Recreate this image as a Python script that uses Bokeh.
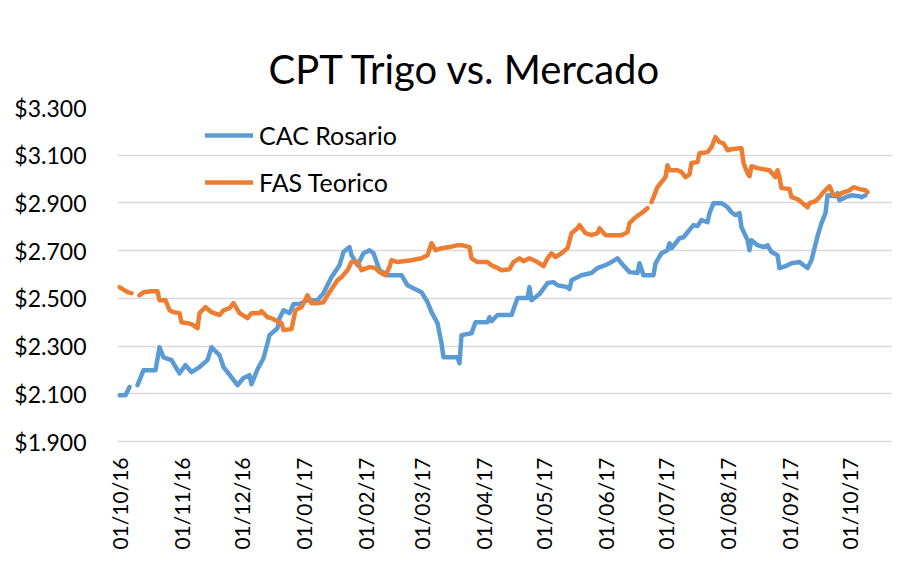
import numpy as np
import pandas as pd
from datetime import datetime, timedelta
from bokeh.plotting import figure
from bokeh.models import (ColumnDataSource, Range1d, FixedTicker, MonthsTicker,
                          DatetimeTickFormatter, Title)
from bokeh.embed import file_html
from bokeh.resources import INLINE

nan = np.nan

titulo = "CPT Trigo vs. Mercado"
serie_cac = "CAC Rosario"
serie_fas = "FAS Teorico"

cac_fechas = [
    "2016-10-01", "2016-10-04", "2016-10-06", "2016-10-08", "2016-10-10", "2016-10-13", "2016-10-19", "2016-10-21", "2016-10-23", "2016-10-27",
    "2016-10-31", "2016-11-03", "2016-11-06", "2016-11-10", "2016-11-14", "2016-11-16", "2016-11-20", "2016-11-22", "2016-11-24", "2016-11-29",
    "2016-12-02", "2016-12-05", "2016-12-06", "2016-12-09", "2016-12-12", "2016-12-14", "2016-12-15", "2016-12-19", "2016-12-20", "2016-12-22",
    "2016-12-25", "2016-12-27", "2016-12-30", "2017-01-03", "2017-01-08", "2017-01-11", "2017-01-15", "2017-01-19", "2017-01-21", "2017-01-24",
    "2017-01-25", "2017-01-28", "2017-01-31", "2017-02-03", "2017-02-05", "2017-02-08", "2017-02-12", "2017-02-19", "2017-02-22", "2017-03-01",
    "2017-03-04", "2017-03-06", "2017-03-09", "2017-03-11", "2017-03-12", "2017-03-19", "2017-03-20", "2017-03-21", "2017-03-26", "2017-03-28",
    "2017-04-03", "2017-04-04", "2017-04-05", "2017-04-08", "2017-04-15", "2017-04-18", "2017-04-23", "2017-04-24", "2017-04-25", "2017-04-29",
    "2017-05-03", "2017-05-06", "2017-05-08", "2017-05-13", "2017-05-14", "2017-05-15", "2017-05-20", "2017-05-25", "2017-05-28", "2017-06-01",
    "2017-06-04", "2017-06-07", "2017-06-09", "2017-06-13", "2017-06-17", "2017-06-18", "2017-06-20", "2017-06-25", "2017-06-26", "2017-06-29",
    "2017-07-02", "2017-07-03", "2017-07-04", "2017-07-08", "2017-07-10", "2017-07-12", "2017-07-15", "2017-07-17", "2017-07-19", "2017-07-22",
    "2017-07-23", "2017-07-25", "2017-07-29", "2017-08-01", "2017-08-03", "2017-08-05", "2017-08-07", "2017-08-08", "2017-08-11", "2017-08-12",
    "2017-08-13", "2017-08-16", "2017-08-19", "2017-08-21", "2017-08-23", "2017-08-26", "2017-08-27", "2017-08-30", "2017-09-02", "2017-09-06",
    "2017-09-10", "2017-09-12", "2017-09-15", "2017-09-17", "2017-09-19", "2017-09-20", "2017-09-24", "2017-09-25", "2017-09-26", "2017-09-29",
    "2017-10-02", "2017-10-06", "2017-10-07", "2017-10-09",
]
cac_valores = [
    2094, 2094, 2128, nan, 2136, 2199, 2199, 2295, 2253, 2241,
    2186, 2220, 2191, 2212, 2241, 2295, 2262, 2212, 2191, 2136,
    2166, 2178, 2140, 2203, 2249, 2312, 2346, 2375, 2417, 2450,
    2438, 2476, 2476, 2492, 2492, 2522, 2589, 2639, 2694, 2715,
    2681, 2639, 2689, 2702, 2689, 2618, 2597, 2597, 2555, 2526,
    2484, 2442, 2396, 2312, 2253, 2253, 2228, 2346, 2354, 2400,
    2400, 2421, 2404, 2430, 2430, 2501, 2501, 2547, 2492, 2518,
    2564, 2568, 2555, 2547, 2539, 2576, 2597, 2606, 2627, 2639,
    2652, 2668, 2647, 2610, 2606, 2647, 2597, 2597, 2647, 2689,
    2702, 2731, 2710, 2752, 2756, 2777, 2807, 2803, 2828, 2819,
    2857, 2899, 2899, 2882, 2861, 2849, 2857, 2798, 2744, 2702,
    2744, 2723, 2715, 2723, 2694, 2681, 2627, 2635, 2647, 2652,
    2627, 2660, 2761, 2815, 2857, 2932, 2928, 2941, 2911, 2924,
    2932, 2928, 2924, 2932,
]

fas_fechas = [
    "2016-10-01", "2016-10-05", "2016-10-07", "2016-10-08", "2016-10-11", "2016-10-13", "2016-10-17", "2016-10-20", "2016-10-21", "2016-10-24",
    "2016-10-26", "2016-10-28", "2016-10-31", "2016-11-01", "2016-11-04", "2016-11-06", "2016-11-09", "2016-11-10", "2016-11-13", "2016-11-16",
    "2016-11-20", "2016-11-22", "2016-11-25", "2016-11-27", "2016-11-30", "2016-12-04", "2016-12-06", "2016-12-10", "2016-12-11", "2016-12-14",
    "2016-12-16", "2016-12-20", "2016-12-21", "2016-12-22", "2016-12-26", "2016-12-28", "2016-12-30", "2016-12-31", "2017-01-03", "2017-01-05",
    "2017-01-08", "2017-01-11", "2017-01-13", "2017-01-18", "2017-01-20", "2017-01-23", "2017-01-25", "2017-01-28", "2017-01-30", "2017-02-03",
    "2017-02-06", "2017-02-08", "2017-02-11", "2017-02-13", "2017-02-14", "2017-02-17", "2017-02-24", "2017-03-01", "2017-03-04", "2017-03-06",
    "2017-03-08", "2017-03-11", "2017-03-15", "2017-03-19", "2017-03-21", "2017-03-25", "2017-03-26", "2017-03-29", "2017-04-03", "2017-04-05",
    "2017-04-08", "2017-04-10", "2017-04-14", "2017-04-16", "2017-04-19", "2017-04-21", "2017-04-24", "2017-04-28", "2017-05-01", "2017-05-03",
    "2017-05-05", "2017-05-07", "2017-05-10", "2017-05-13", "2017-05-15", "2017-05-18", "2017-05-19", "2017-05-22", "2017-05-25", "2017-05-28",
    "2017-05-29", "2017-06-01", "2017-06-09", "2017-06-12", "2017-06-13", "2017-06-16", "2017-06-19", "2017-06-22", "2017-06-23", "2017-06-24",
    "2017-06-27", "2017-06-29", "2017-07-01", "2017-07-02", "2017-07-03", "2017-07-07", "2017-07-09", "2017-07-11", "2017-07-13", "2017-07-14",
    "2017-07-17", "2017-07-18", "2017-07-22", "2017-07-24", "2017-07-26", "2017-07-28", "2017-07-30", "2017-08-01", "2017-08-03", "2017-08-07",
    "2017-08-08", "2017-08-09", "2017-08-11", "2017-08-12", "2017-08-13", "2017-08-16", "2017-08-19", "2017-08-22", "2017-08-25", "2017-08-26",
    "2017-08-27", "2017-08-28", "2017-09-01", "2017-09-02", "2017-09-05", "2017-09-07", "2017-09-10", "2017-09-11", "2017-09-14", "2017-09-16",
    "2017-09-18", "2017-09-21", "2017-09-23", "2017-09-26", "2017-09-27", "2017-10-01", "2017-10-03", "2017-10-06", "2017-10-09", "2017-10-10",
]
fas_valores = [
    2547, 2526, 2522, nan, 2513, 2526, 2530, 2530, 2492, 2492,
    2450, 2442, 2438, 2400, 2396, 2392, 2375, 2438, 2463, 2442,
    2430, 2450, 2459, 2480, 2438, 2417, 2438, 2438, 2446, 2421,
    2417, 2400, 2396, 2367, 2371, 2450, 2459, 2463, 2513, 2480,
    2480, 2484, 2513, 2576, 2589, 2618, 2652, 2652, 2618, 2631,
    2627, 2610, 2597, 2631, 2660, 2652, 2660, 2668, 2681, 2731,
    2702, 2710, 2715, 2723, 2723, 2715, 2668, 2652, 2652, 2639,
    2627, 2618, 2622, 2652, 2668, 2656, 2668, 2652, 2635, 2668,
    2689, 2673, 2689, 2710, 2773, 2794, 2807, 2773, 2765, 2773,
    2794, 2765, 2765, 2777, 2815, 2840, 2857, 2878, nan, 2903,
    2966, 2987, 3008, 3058, 3037, 3037, 3029, 3008, 3020, 3067,
    3071, 3108, 3113, 3134, 3176, 3155, 3150, 3121, 3125, 3129,
    3129, 3067, 3025, 3012, 3054, 3046, 3041, 3037, 3008, 3037,
    3008, 2962, 2958, 2924, 2916, 2903, 2882, 2899, 2907, 2924,
    2945, 2970, 2932, 2932, 2941, 2953, 2966, 2958, 2953, 2945,
]

y_ticks = [1900, 2100, 2300, 2500, 2700, 2900, 3100, 3300]
y_labels = ["$1.900", "$2.100", "$2.300", "$2.500", "$2.700", "$2.900", "$3.100", "$3.300"]

src_cac = ColumnDataSource(dict(x=pd.to_datetime(cac_fechas), y=np.array(cac_valores, dtype=float)))
src_fas = ColumnDataSource(dict(x=pd.to_datetime(fas_fechas), y=np.array(fas_valores, dtype=float)))

x_start = datetime(2016, 9, 30)
x_end = x_start + timedelta(days=387.5)

p = figure(width=892, height=559, output_backend="svg", toolbar_location=None,
           x_axis_type="datetime",
           x_range=Range1d(x_start, x_end), y_range=Range1d(1900, 3300),
           min_border_left=117, min_border_right=0, min_border_top=107, min_border_bottom=118)
p.outline_line_color = None
p.background_fill_color = "white"
p.border_fill_color = "white"

FONT = "Lato"

t = Title(text=titulo, align="left", offset=151, text_font=FONT, text_font_size="40px",
          text_font_style="normal", text_color="#000000", standoff=30)
p.add_layout(t, "above")

p.line("x", "y", source=src_cac, line_color="#5B9BD5", line_width=4.5,
       line_join="round", line_cap="round", legend_label=serie_cac)
p.line("x", "y", source=src_fas, line_color="#ED7D31", line_width=4.5,
       line_join="round", line_cap="round", legend_label=serie_fas)

# y axis
p.yaxis.ticker = FixedTicker(ticks=y_ticks)
p.yaxis.major_label_overrides = {t_: l_ for t_, l_ in zip(y_ticks, y_labels)}
p.yaxis.axis_line_color = None
p.yaxis.major_tick_line_color = None
p.yaxis.minor_tick_line_color = None
p.yaxis.major_tick_out = 0
p.yaxis.major_label_standoff = 31
p.yaxis.major_label_text_font = FONT
p.yaxis.major_label_text_font_size = "23px"
p.yaxis.major_label_text_color = "#000000"

# x axis
p.xaxis.ticker = MonthsTicker(months=list(range(12)))
fmt = "%d/%m/%y"
p.xaxis.formatter = DatetimeTickFormatter(days=fmt, months=fmt, years=fmt)
p.xaxis.major_label_orientation = np.pi / 2
p.xaxis.axis_line_color = "#D9D9D9"
p.xaxis.axis_line_width = 1.5
p.xaxis.major_tick_line_color = None
p.xaxis.minor_tick_line_color = None
p.xaxis.major_tick_out = 0
p.xaxis.major_label_standoff = 16
p.xaxis.major_label_text_font = FONT
p.xaxis.major_label_text_font_size = "21px"
p.xaxis.major_label_text_color = "#000000"

p.xgrid.visible = False
p.ygrid.grid_line_color = "#D9D9D9"
p.ygrid.grid_line_width = 1.5

lg = p.legend[0]
lg.location = (88, 244)
lg.margin = 0
lg.padding = 0
lg.spacing = 17
lg.glyph_width = 48
lg.glyph_height = 30
lg.label_height = 30
lg.label_standoff = 6
lg.label_text_font = FONT
lg.label_text_font_size = "25px"
lg.label_text_color = "#000000"
lg.border_line_color = None
lg.background_fill_alpha = 0

open("out.html", "w").write(file_html(p, INLINE))
